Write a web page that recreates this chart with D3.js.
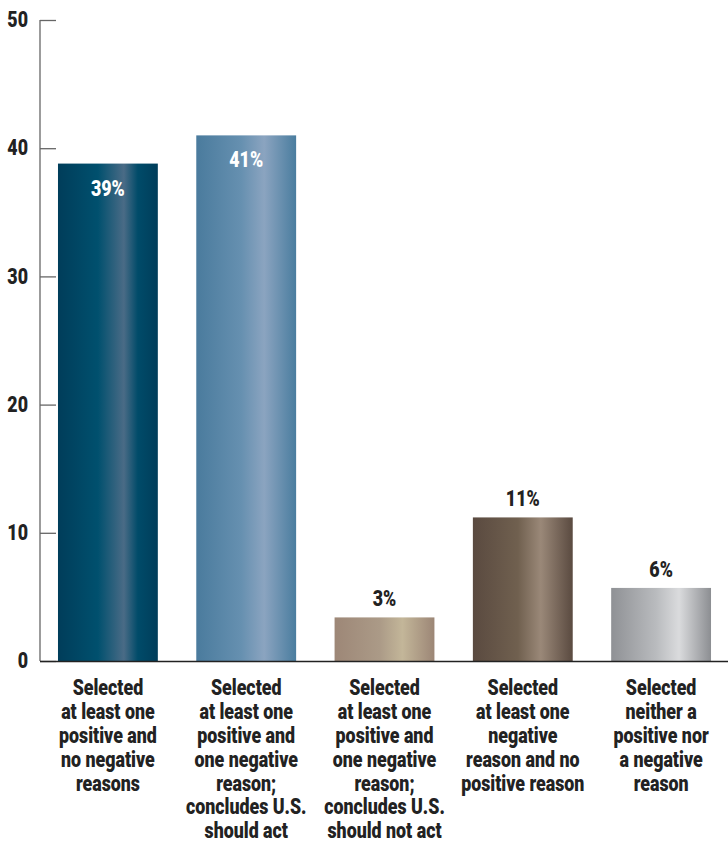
<!DOCTYPE html>
<html>
<head>
<meta charset="utf-8">
<script src="https://cdn.jsdelivr.net/npm/d3@7"></script>
<style>
  html, body { margin: 0; padding: 0; background: #fff; }
  svg { display: block; }
  text { font-family: "Roboto", "Liberation Sans", sans-serif; font-weight: 900; }
</style>
</head>
<body>
<svg id="chart" width="728" height="844"></svg>
<script>
// ---- data ----
const categories = [
  ["Selected", "at least one", "positive and", "no negative", "reasons"],
  ["Selected", "at least one", "positive and", "one negative", "reason;", "concludes U.S.", "should act"],
  ["Selected", "at least one", "positive and", "one negative", "reason;", "concludes U.S.", "should not act"],
  ["Selected", "at least one", "negative", "reason and no", "positive reason"],
  ["Selected", "neither a", "positive nor", "a negative", "reason"]
];
const values = [38.8, 41, 3.4, 11.2, 5.7];
const valueLabels = ["39%", "41%", "3%", "11%", "6%"];
const yTicks = [0, 10, 20, 30, 40, 50];
const gradientStops = [
  [["0%", "#003d5a"], ["40%", "#00506e"], ["66%", "#4a6b86"], ["80%", "#004b69"], ["100%", "#003d5a"]],
  [["0%", "#4a7b9d"], ["45%", "#6690b0"], ["68%", "#8ba4c0"], ["100%", "#4a7d9f"]],
  [["0%", "#9d8777"], ["45%", "#ab9a87"], ["68%", "#c3b699"], ["100%", "#9c8676"]],
  [["0%", "#5a4a40"], ["45%", "#70604f"], ["68%", "#9a8878"], ["100%", "#5a4a40"]],
  [["0%", "#8f9195"], ["45%", "#b9bbbe"], ["68%", "#dadbdd"], ["100%", "#8c8e92"]]
];

// ---- chart ----
const svg = d3.select("#chart");
const x0 = 40, yTop = 20, yBottom = 661;
const SX = 0.81;         // horizontal condensing of text
const FS = 22;           // font size

const x = d3.scaleBand()
  .domain(d3.range(values.length))
  .range([x0, 729])
  .paddingInner(0.278)
  .paddingOuter(0.13);

const y = d3.scaleLinear().domain([0, 50]).range([yBottom, yTop]);

const defs = svg.append("defs");
gradientStops.forEach((stops, i) => {
  const g = defs.append("linearGradient")
    .attr("id", "grad" + i)
    .attr("x1", "0%").attr("x2", "100%").attr("y1", "0%").attr("y2", "0%");
  stops.forEach(s => g.append("stop").attr("offset", s[0]).attr("stop-color", s[1]));
});

// bars
svg.append("g").selectAll("rect")
  .data(values)
  .join("rect")
  .attr("x", (d, i) => x(i))
  .attr("width", x.bandwidth())
  .attr("y", d => y(d))
  .attr("height", d => y(0) - y(d))
  .attr("fill", (d, i) => `url(#grad${i})`);

// y axis
const yAxis = d3.axisLeft(y).tickValues(yTicks).tickSize(-16).tickPadding(0).tickFormat(d3.format("d"));
const ya = svg.append("g").attr("transform", `translate(${x0},0)`).call(yAxis);
ya.select(".domain").remove();
ya.selectAll(".tick line").attr("stroke", "#666").attr("stroke-width", 1.3);
ya.selectAll(".tick text").remove();
ya.selectAll(".tick").append("g")
  .attr("transform", `translate(-12,0) scale(${SX},1)`)
  .append("text")
  .attr("text-anchor", "end")
  .attr("dy", "0.3em")
  .attr("fill", "#222")
  .style("font-size", FS + "px")
  .text(d => d3.format("d")(d));
svg.append("line")
  .attr("x1", x0).attr("x2", x0)
  .attr("y1", y(50)).attr("y2", y(0))
  .attr("stroke", "#666").attr("stroke-width", 1.3);
// baseline
svg.append("line")
  .attr("x1", x0).attr("x2", 728)
  .attr("y1", y(0) + 0.5).attr("y2", y(0) + 0.5)
  .attr("stroke", "#222").attr("stroke-width", 1.5);

// value labels
svg.append("g").selectAll("g")
  .data(values)
  .join("g")
  .attr("transform", (d, i) => `translate(${x(i) + x.bandwidth() / 2},${i < 2 ? y(d) + 32 : y(d) - 11}) scale(${SX},1)`)
  .append("text")
  .attr("text-anchor", "middle")
  .attr("fill", (d, i) => i < 2 ? "#fff" : "#222")
  .style("font-size", FS + "px")
  .text((d, i) => valueLabels[i]);

// category labels
const cat = svg.append("g").selectAll("g")
  .data(categories)
  .join("g")
  .attr("transform", (d, i) => `translate(${x(i) + x.bandwidth() / 2},695) scale(${SX},1)`)
  .append("text")
  .attr("text-anchor", "middle")
  .attr("fill", "#222")
  .style("font-size", FS + "px");
cat.selectAll("tspan")
  .data(d => d)
  .join("tspan")
  .attr("x", 0)
  .attr("dy", (d, j) => j === 0 ? 0 : 23.9)
  .text(d => d);
</script>
</body>
</html>
